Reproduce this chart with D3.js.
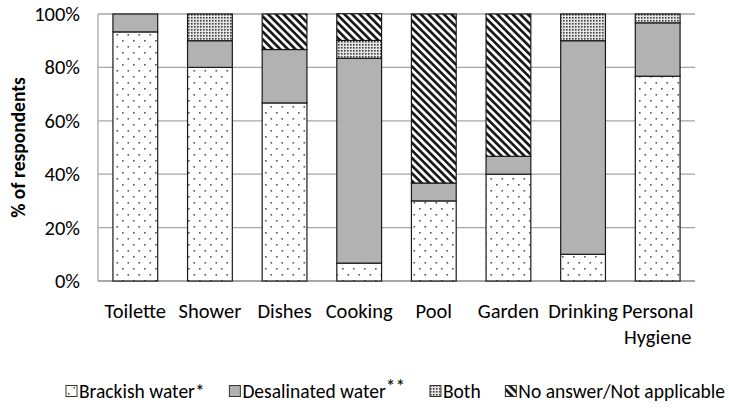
<!DOCTYPE html>
<html lang="en">
<head>
<meta charset="UTF-8">
<title>Water use by source</title>
<script src="https://cdnjs.cloudflare.com/ajax/libs/d3/7.9.0/d3.min.js"></script>
<style>
  body { margin: 0; background: #fff; }
  svg text { font-family: Carlito, Lato, "Liberation Sans", sans-serif; fill: #000; }
</style>
</head>
<body>
<div id="chart"></div>
<script>
// data (percent of respondents)
const categories = ["Toilette", "Shower", "Dishes", "Cooking", "Pool", "Garden", "Drinking", "Personal Hygiene"];
const brackish    = [93.3, 80, 66.7, 6.7, 30, 40, 10, 76.7];
const desalinated = [6.7, 10, 20, 76.7, 6.7, 6.7, 80, 20];
const both        = [0, 10, 0, 6.7, 0, 0, 10, 3.3];
const noAnswer    = [0, 0, 13.3, 10, 63.3, 53.3, 0, 0];
const seriesNames = ["Brackish water*", "Desalinated water**", "Both", "No answer/Not applicable"];
const yTicks = [0, 20, 40, 60, 80, 100];

const W = 729, H = 408;
const margin = { top: 14, right: 34, bottom: 127, left: 98 };

const svg = d3.select("#chart").append("svg")
    .attr("width", W)
    .attr("height", H);

// fill patterns
const defs = svg.append("defs");

const dots = defs.append("pattern")
    .attr("id", "pat-brackish")
    .attr("patternUnits", "userSpaceOnUse")
    .attr("width", 11).attr("height", 12);
dots.append("rect").attr("width", 11).attr("height", 12).attr("fill", "#fff");
dots.append("rect").attr("x", 2).attr("y", 2).attr("width", 1.6).attr("height", 1.6).attr("fill", "#555");
dots.append("rect").attr("x", 7.5).attr("y", 8).attr("width", 1.6).attr("height", 1.6).attr("fill", "#555");

const fine = defs.append("pattern")
    .attr("id", "pat-both")
    .attr("patternUnits", "userSpaceOnUse")
    .attr("width", 3).attr("height", 3);
fine.append("rect").attr("width", 3).attr("height", 3).attr("fill", "#e6e6e6");
fine.append("rect").attr("width", 1.6).attr("height", 1.6).attr("fill", "#404040");

const hatch = defs.append("pattern")
    .attr("id", "pat-none")
    .attr("patternUnits", "userSpaceOnUse")
    .attr("width", 5.4).attr("height", 5.4)
    .attr("patternTransform", "rotate(-45)");
hatch.append("rect").attr("width", 5.4).attr("height", 5.4).attr("fill", "#fff");
hatch.append("rect").attr("width", 2.7).attr("height", 5.4).attr("fill", "#1a1a1a");

const fills = ["url(#pat-brackish)", "#b2b2b2", "url(#pat-both)", "url(#pat-none)"];

const plotW = W - margin.left - margin.right;
const plotH = H - margin.top - margin.bottom;

const x = d3.scaleBand()
    .domain(categories)
    .range([0, plotW])
    .paddingInner(0.4)
    .paddingOuter(0.2);

const y = d3.scaleLinear()
    .domain([0, 100])
    .range([plotH, 0]);

const g = svg.append("g")
    .attr("transform", `translate(${margin.left},${margin.top})`);

// gridlines
g.append("g")
    .selectAll("line")
    .data(yTicks)
    .enter().append("line")
    .attr("x1", 0).attr("x2", plotW)
    .attr("y1", d => y(d)).attr("y2", d => y(d))
    .attr("stroke", "#a6a6a6")
    .attr("stroke-width", d => d === 0 ? 2 : 1.3);

g.append("line")
    .attr("x1", 0).attr("x2", 0)
    .attr("y1", 0).attr("y2", plotH)
    .attr("stroke", "#a6a6a6")
    .attr("stroke-width", 1.3);

// y axis labels
const yAxis = g.append("g")
    .call(d3.axisLeft(y).tickValues(yTicks).tickFormat(d => d + "%").tickSize(0).tickPadding(18));
yAxis.select(".domain").remove();
yAxis.selectAll("text")
    .style("font-size", "20.5px")
    .attr("font-family", null);

svg.append("text")
    .attr("transform", `translate(18,${margin.top + plotH / 2}) rotate(-90)`)
    .attr("text-anchor", "middle")
    .attr("dominant-baseline", "central")
    .style("font-size", "19.5px")
    .style("font-weight", "bold")
    .text("% of respondents");

// stacked bars
const rows = categories.map((c, i) => ({
    cat: c,
    s0: brackish[i], s1: desalinated[i], s2: both[i], s3: noAnswer[i]
}));
const stack = d3.stack().keys(["s0", "s1", "s2", "s3"])(rows);

g.append("g")
    .selectAll("g")
    .data(stack)
    .enter().append("g")
    .attr("fill", (d, i) => fills[i])
    .selectAll("rect")
    .data(d => d.filter(p => p[1] - p[0] > 0))
    .enter().append("rect")
    .attr("x", d => x(d.data.cat))
    .attr("y", d => y(d[1]))
    .attr("width", x.bandwidth())
    .attr("height", d => y(d[0]) - y(d[1]))
    .attr("stroke", "#1a1a1a")
    .attr("stroke-width", 1.2);

// x labels (wrapped like the original)
const xAxis = g.append("g")
    .attr("transform", `translate(0,${plotH})`)
    .call(d3.axisBottom(x).tickSize(0).tickPadding(0));
xAxis.select(".domain").remove();
xAxis.selectAll("text").remove();
xAxis.selectAll(".tick").append("text")
    .attr("text-anchor", "middle")
    .style("font-size", "20.5px")
    .each(function (d) {
        const words = d === "Personal Hygiene" ? ["Personal", "Hygiene"] : [d];
        const t = d3.select(this);
        words.forEach((w, k) => {
            t.append("tspan").attr("x", 0).attr("y", 37 + k * 26).text(w);
        });
    });

// legend: spread between the reference's left and right edges
const legLeft = 66, legRight = 725, box = 11, boxGap = 2;
const legend = svg.append("g")
    .attr("transform", "translate(0,391)");
const items = legend.selectAll("g")
    .data(seriesNames)
    .enter().append("g");
items.append("rect")
    .attr("x", 0).attr("y", -5.5)
    .attr("width", box).attr("height", box)
    .attr("fill", (d, i) => fills[i])
    .attr("stroke", "#333")
    .attr("stroke-width", 1);
items.append("text")
    .attr("x", box + boxGap)
    .attr("y", 0)
    .attr("dominant-baseline", "central")
    .style("font-size", "19.5px")
    .each(function (d) {
        const t = d3.select(this);
        if (d.endsWith("**")) {
            t.append("tspan").text(d.slice(0, -2));
            t.append("tspan").attr("dy", -5).text("**");
        } else {
            t.text(d);
        }
    });
const widths = [];
items.each(function () { widths.push(box + boxGap + d3.select(this).select("text").node().getComputedTextLength()); });
const gap = (legRight - legLeft - d3.sum(widths)) / (widths.length - 1);
let cx = legLeft;
items.attr("transform", (d, i) => {
    const pos = cx;
    cx += widths[i] + gap;
    return `translate(${pos},0)`;
});
</script>
</body>
</html>
